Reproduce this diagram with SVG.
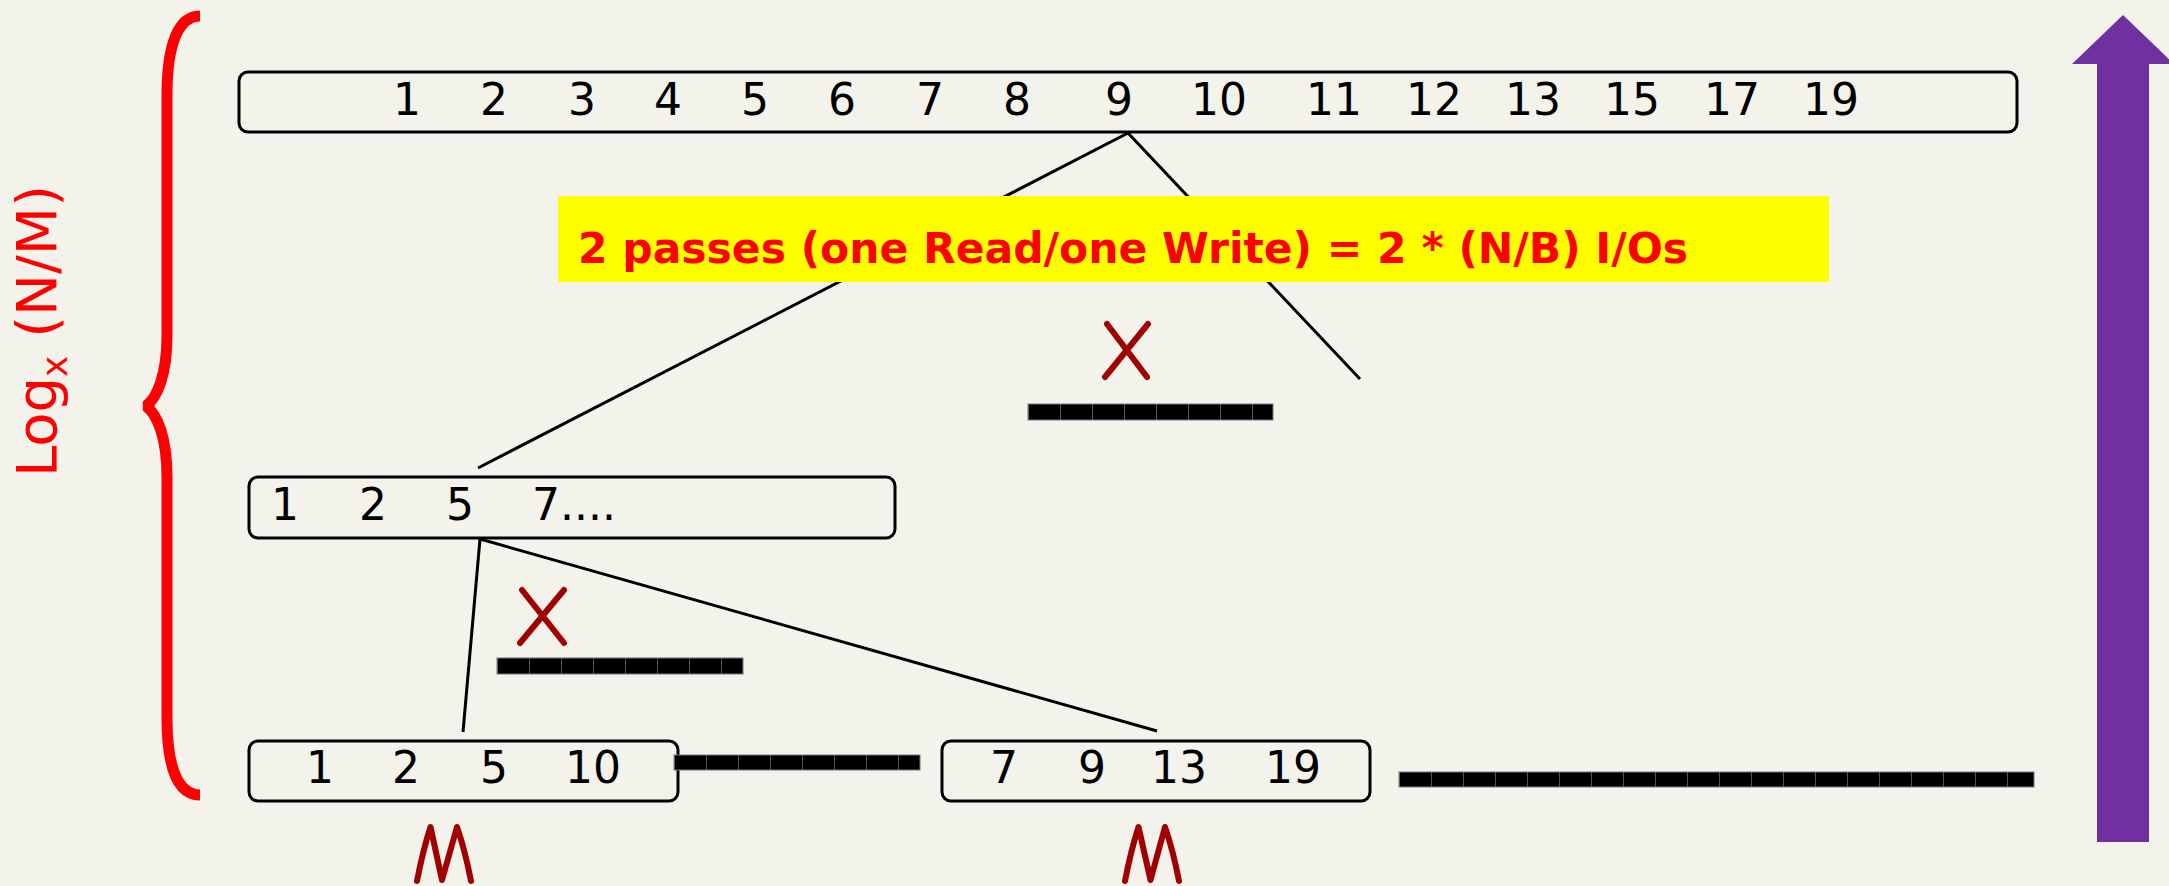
<svg xmlns="http://www.w3.org/2000/svg" width="2169" height="886" viewBox="0 0 2169 886">
  <style>
    .box { fill: none; stroke: #000; stroke-width: 3; }
    .num { font-family: "DejaVu Sans", Verdana, sans-serif; font-size: 44px; fill: #000; text-anchor: middle; }
    .num-start { font-family: "DejaVu Sans", Verdana, sans-serif; font-size: 44px; fill: #000; }
    .link { stroke: #000; stroke-width: 3; fill: none; }
    .mark { stroke: #A00000; stroke-width: 6; fill: none; stroke-linecap: round; stroke-linejoin: round; }
    .bar { fill: url(#cells); stroke: #777; stroke-width: 1; }
  </style>
  <defs>
    <pattern id="cells" width="32" height="20" patternUnits="userSpaceOnUse">
      <rect width="32" height="20" fill="#000"/>
      <rect width="1" height="20" fill="#555"/>
    </pattern>
  </defs>

  <!-- background -->
  <rect width="2169" height="886" fill="#F3F2EB"/>

  <!-- level brace and label -->
  <g id="levels">
    <path d="M200,16 C178,16 167,45 167,95 L167,335 C167,375 157,398 146,406 C157,414 167,437 167,477 L167,718 C167,768 178,795 200,795" fill="none" stroke="#FF0000" stroke-width="11" stroke-linejoin="bevel"/>
    <text transform="translate(56,477) rotate(-90)" font-family="DejaVu Sans, Verdana, sans-serif" font-size="56" fill="#FF0000" textLength="292" lengthAdjust="spacingAndGlyphs">Log<tspan font-size="36" dy="11">x</tspan><tspan dy="-11"> (N/M)</tspan></text>
  </g>

  <!-- connectors -->
  <g id="connectors">
    <line class="link" x1="1128" y1="133" x2="478" y2="468"/>
    <line class="link" x1="1128" y1="133" x2="1360" y2="379"/>
    <line class="link" x1="480" y1="539" x2="463" y2="732"/>
    <line class="link" x1="480" y1="539" x2="1157" y2="731"/>
  </g>

  <!-- merged run at the top -->
  <g id="run-top">
    <rect class="box" x="239" y="72" width="1778" height="60" rx="9"/>
    <text class="num" y="115"><tspan x="407">1</tspan><tspan x="494">2</tspan><tspan x="582">3</tspan><tspan x="668">4</tspan><tspan x="755">5</tspan><tspan x="842">6</tspan><tspan x="930">7</tspan><tspan x="1017">8</tspan><tspan x="1119">9</tspan><tspan x="1219">10</tspan><tspan x="1334">11</tspan><tspan x="1434">12</tspan><tspan x="1533">13</tspan><tspan x="1632">15</tspan><tspan x="1732">17</tspan><tspan x="1831">19</tspan></text>
  </g>

  <!-- pass cost label -->
  <g id="cost-label">
    <rect x="558" y="196" width="1271" height="86" fill="#FFFF00"/>
    <text x="578" y="263" font-family="DejaVu Sans, Verdana, sans-serif" font-size="42" font-weight="bold" fill="#FF0000" textLength="1110" lengthAdjust="spacingAndGlyphs">2 passes (one Read/one Write) = 2 * (N/B) I/Os</text>
  </g>

  <!-- fan-in marker and buffer at the top level -->
  <g id="fanin-top">
    <path class="mark" d="M1107,324 L1147,377 M1148,324 L1105,377"/>
    <g transform="translate(1028,404)"><rect class="bar" width="245" height="16"/></g>
  </g>

  <!-- intermediate run -->
  <g id="run-mid">
    <rect class="box" x="249" y="477" width="646" height="61" rx="9"/>
    <text class="num" y="520"><tspan x="285">1</tspan><tspan x="373">2</tspan><tspan x="460">5</tspan></text>
    <text class="num-start" x="532" y="520">7....</text>
  </g>

  <!-- fan-in marker and buffer at the middle level -->
  <g id="fanin-mid">
    <path class="mark" d="M522,590 L564,643 M564,590 L520,643"/>
    <g transform="translate(497,658)"><rect class="bar" width="246" height="16"/></g>
  </g>

  <!-- sorted runs of size M -->
  <g id="run-a">
    <rect class="box" x="249" y="741" width="429" height="60" rx="9"/>
    <text class="num" y="783"><tspan x="320">1</tspan><tspan x="406">2</tspan><tspan x="494">5</tspan><tspan x="593">10</tspan></text>
    <path class="mark" d="M417,881 Q423,850 430.5,827 L442,880 L457,827 Q465,850 471,881"/>
  </g>
  <g id="buffer-a">
    <g transform="translate(674,755)"><rect class="bar" width="246" height="15"/></g>
  </g>

  <g id="run-b">
    <rect class="box" x="942" y="741" width="428" height="60" rx="9"/>
    <text class="num" y="783"><tspan x="1004">7</tspan><tspan x="1092">9</tspan><tspan x="1179">13</tspan><tspan x="1293">19</tspan></text>
    <path class="mark" d="M1125,881 Q1131,850 1138.5,827 L1150.5,880 L1165,827 Q1173,850 1179,881"/>
  </g>
  <g id="buffer-b">
    <g transform="translate(1399,772)"><rect class="bar" width="635" height="15"/></g>
  </g>

  <!-- direction of merging -->
  <g id="merge-arrow">
    <path d="M2123,15 L2174,64 L2149,64 L2149,842 L2097,842 L2097,64 L2072,64 Z" fill="#7030A0"/>
  </g>
</svg>
